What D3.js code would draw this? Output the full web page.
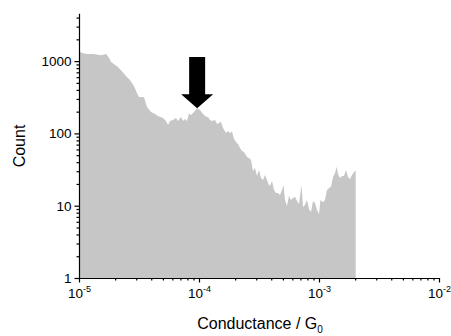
<!DOCTYPE html>
<head>
	<script src="https://d3js.org/d3.v7.min.js"></script>
	<style>
		body { margin: 0; background: #fff; }
		text { font-family: "Liberation Sans", Arial, sans-serif; fill: #000; }
	</style>
</head>
<body>
<svg></svg>
<script>
// conductance (G0) and count
var conductance = [
	1.00e-5, 1.06e-5, 1.17e-5, 1.31e-5, 1.53e-5, 1.68e-5, 1.78e-5, 1.85e-5, 2.00e-5, 2.11e-5,
	2.33e-5, 2.46e-5, 2.66e-5, 2.87e-5, 3.04e-5, 3.16e-5, 3.48e-5, 3.69e-5, 3.98e-5, 4.30e-5,
	4.55e-5, 5.01e-5, 5.31e-5, 5.52e-5, 5.73e-5, 6.07e-5, 6.43e-5, 6.68e-5, 7.08e-5, 7.36e-5,
	7.64e-5, 7.94e-5, 8.25e-5, 8.58e-5, 9.09e-5, 9.62e-5, 1.019e-4, 1.080e-4, 1.144e-4, 1.189e-4,
	1.235e-4, 1.283e-4, 1.359e-4, 1.413e-4, 1.468e-4, 1.525e-4, 1.585e-4, 1.679e-4, 1.744e-4, 1.813e-4,
	1.884e-4, 1.957e-4, 2.034e-4, 2.113e-4, 2.196e-4, 2.282e-4, 2.371e-4, 2.512e-4, 2.610e-4, 2.712e-4,
	2.818e-4, 2.929e-4, 3.043e-4, 3.162e-4, 3.286e-4, 3.414e-4, 3.548e-4, 3.687e-4, 3.794e-4, 3.905e-4,
	4.058e-4, 4.217e-4, 4.382e-4, 4.553e-4, 4.732e-4, 4.917e-4, 5.060e-4, 5.208e-4, 5.412e-4, 5.623e-4,
	5.843e-4, 6.072e-4, 6.310e-4, 6.557e-4, 6.813e-4, 7.148e-4, 7.356e-4, 7.642e-4, 7.943e-4, 8.254e-4,
	8.577e-4, 8.913e-4, 9.261e-4, 9.624e-4, 1.000e-3, 1.029e-3, 1.080e-3, 1.122e-3, 1.166e-3, 1.212e-3,
	1.259e-3, 1.308e-3, 1.359e-3, 1.405e-3, 1.440e-3, 1.496e-3, 1.555e-3, 1.616e-3, 1.679e-3, 1.744e-3,
	1.813e-3, 1.884e-3, 1.957e-3, 2.022e-3
];
var counts = [
	1380, 1294, 1254, 1254, 1203, 1254, 1104, 972, 883, 829,
	696, 622, 548, 452, 362, 319, 316, 232, 198, 186,
	174, 163, 148, 131, 148, 153, 163, 148, 169, 148,
	158, 148, 188, 180, 198, 222, 211, 186, 170, 169,
	153, 148, 153, 135, 139, 145, 119, 101, 108, 101,
	106, 83.7, 76.0, 71.4, 62.8, 57.1, 55.3, 47.2, 45.7, 42.9,
	30.2, 33.2, 25.8, 31.2, 24.2, 22.7, 26.6, 22.7, 20.0, 18.7,
	22.0, 16.5, 15.0, 15.0, 14.1, 16.5, 19.3, 12.0, 9.9, 13.6,
	12.0, 12.8, 13.3, 11.6, 10.6, 19.3, 9.6, 10.2, 12.0, 9.0,
	8.2, 11.6, 10.9, 8.7, 7.7, 12.0, 11.2, 12.0, 16.5, 17.6,
	18.3, 24.9, 28.3, 34.6, 27.4, 24.2, 25.8, 25.8, 31.2, 24.9,
	23.4, 26.6, 29.2, 30.5
];
var yMajor = [1, 10, 100, 1000];
var xMajor = [1e-5, 1e-4, 1e-3, 1e-2];
var xExponents = ["-5", "-4", "-3", "-2"];
// arrow marking the peak: position, tip and top of shaft
var arrowG = 9.65e-5;
var arrowTip = 222;
var arrowTop = 1140;

var width = 451, height = 336;
var svg = d3.select("svg").attr("width", width).attr("height", height);

var x = d3.scaleLog().domain([1e-5, 1e-2]).range([79, 439]);
var y = d3.scaleLog().domain([1, 4600]).range([278, 13.2]);

var data = conductance.map(function(g, i) { return { g: g, c: counts[i] }; });

var area = d3.area()
	.x(function(d) { return x(d.g); })
	.y0(y(1))
	.y1(function(d) { return y(d.c); });

svg.append("path")
	.datum(data)
	.attr("d", area)
	.attr("fill", "#c6c6c6");

// arrow
var ax = x(arrowG), tipY = y(arrowTip), topY = y(arrowTop);
var headH = 14, shaftW = 8, headW = 16;
svg.append("path")
	.attr("d", "M" + (ax - shaftW) + "," + topY +
		"L" + (ax + shaftW) + "," + topY +
		"L" + (ax + shaftW) + "," + (tipY - headH) +
		"L" + (ax + headW) + "," + (tipY - headH) +
		"L" + ax + "," + tipY +
		"L" + (ax - headW) + "," + (tipY - headH) +
		"L" + (ax - shaftW) + "," + (tipY - headH) + "Z")
	.attr("fill", "#000");

// minor ticks
var yMinor = [];
[1, 10, 100, 1000].forEach(function(b) {
	for (var k = 2; k <= 9; k++) if (b * k <= 4600) yMinor.push(b * k);
});
var xMinor = [];
[1e-5, 1e-4, 1e-3].forEach(function(b) {
	for (var k = 2; k <= 9; k++) xMinor.push(b * k);
});

svg.append("g")
	.attr("transform", "translate(79,0)")
	.call(d3.axisLeft(y).tickValues(yMinor).tickSize(2.5).tickFormat("").tickSizeOuter(0))
	.call(function(g) { g.select(".domain").remove(); });
svg.append("g")
	.attr("transform", "translate(0,278)")
	.call(d3.axisBottom(x).tickValues(xMinor).tickSize(2.5).tickFormat("").tickSizeOuter(0))
	.call(function(g) { g.select(".domain").remove(); });

var yAxis = svg.append("g")
	.attr("transform", "translate(79,0)")
	.call(d3.axisLeft(y).tickValues(yMajor).tickSize(4.5).tickSizeOuter(0).tickPadding(3)
		.tickFormat(d3.format("d")));
yAxis.selectAll("text").attr("font-size", "13.5px").attr("font-family", null);

var xAxis = svg.append("g")
	.attr("transform", "translate(0,278)")
	.call(d3.axisBottom(x).tickValues(xMajor).tickSize(4.5).tickSizeOuter(0).tickFormat(""));

xAxis.selectAll(".tick").append("text")
	.attr("y", 20)
	.attr("text-anchor", "middle")
	.attr("font-size", "13.5px")
	.each(function(d, i) {
		var t = d3.select(this);
		t.append("tspan").text("10");
		t.append("tspan").attr("dy", -6).attr("font-size", "9px").text(xExponents[i]);
	});

svg.selectAll(".domain, .tick line").attr("stroke", "#000").attr("stroke-width", 1.2);

svg.append("text")
	.attr("x", 260)
	.attr("y", 329)
	.attr("text-anchor", "middle")
	.attr("font-size", "16px")
	.call(function(t) {
		t.append("tspan").text("Conductance / G");
		t.append("tspan").attr("dy", 4).attr("font-size", "10px").text("0");
	});

svg.append("text")
	.attr("transform", "translate(25,146) rotate(-90)")
	.attr("text-anchor", "middle")
	.attr("font-size", "16px")
	.text("Count");
</script>
</body>
</html>
